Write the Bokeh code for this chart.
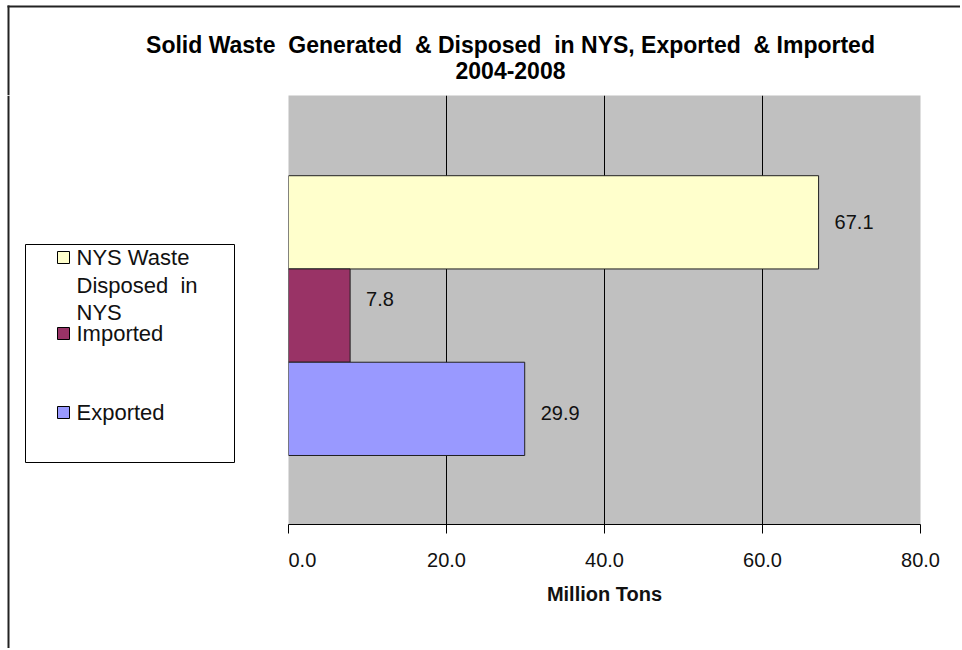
from bokeh.plotting import figure
from bokeh.layouts import column, row
from bokeh.models import (Range1d, FixedTicker, LabelSet, ColumnDataSource,
                          NumeralTickFormatter)
from bokeh.core.properties import value
from bokeh.embed import file_html
from bokeh.resources import INLINE

NB = "\u00a0"

# ---- data ----
series = ["NYS Waste Disposed in NYS", "Imported", "Exported"]
legend_lines = [["NYS Waste", "Disposed" + NB + NB + "in", "NYS"], ["Imported"], ["Exported"]]
values = [67.1, 7.8, 29.9]
colors = ["#FFFFCC", "#993366", "#9999FF"]
positions = [2, 1, 0]
x_ticks = [0, 20, 40, 60, 80]
title_lines = ["Solid Waste  Generated  & Disposed  in NYS, Exported  & Imported".replace("  ", NB + " "),
               "2004-2008"]
x_label = "Million Tons"

# ---- layout / style ----
FONT = "Liberation Sans"
W, H = 960, 648
FL, FR, FT, FB = 288, 920, 95, 524   # plot-area edges on the page
label_nudge = [0, 17, -4]            # value-label vertical nudges (px)
BORDER = "#222222"


def blank(width, height, xr, yr, bottom=0):
    f = figure(width=width, height=height, output_backend="svg", toolbar_location=None,
               x_range=Range1d(*xr), y_range=Range1d(*yr), x_axis_type=None,
               y_axis_type=None, min_border=0, min_border_bottom=bottom)
    f.outline_line_color = None
    f.background_fill_color = "white"
    f.border_fill_color = "white"
    f.xgrid.visible = False
    f.ygrid.visible = False
    return f


# ---- title strip (page coordinates, y downwards) ----
t = blank(W, FT, (0, W), (FT, 0))
t.quad(left=[7], right=[W], top=[5], bottom=[7], fill_color=BORDER, line_color=None)
t.quad(left=[7], right=[9], top=[5], bottom=[FT], fill_color=BORDER, line_color=None)
t.text(x=[510] * len(title_lines), y=[44 + 26 * i for i in range(len(title_lines))],
       text=title_lines, text_align="center", text_baseline="middle",
       text_font=value(FONT), text_font_style="bold", text_font_size="23px",
       text_color="black")

# ---- legend panel (page coordinates, y downwards) ----
try:
    lg = blank(FL, H - FT, (0, FL), (H, FT))
    lg.frame_align = False
    border_bottom = H
except Exception:
    lg = blank(FL, H - FT, (0, FL), (FB, FT), bottom=H - FB)
    border_bottom = FB
lg.quad(left=[7], right=[9], top=[FT], bottom=[border_bottom], fill_color=BORDER,
        line_color=None)
lg.quad(left=[25], right=[234], top=[244], bottom=[462], fill_color="white",
        line_color="black", line_width=1)
sq_tops = [251, 327, 406]
line_h = 27.5
lg.quad(left=[57] * 3, right=[69] * 3, top=sq_tops, bottom=[s + 12 for s in sq_tops],
        fill_color=colors, line_color="black", line_width=1)
tx, ty, tt = [], [], []
for lines, top in zip(legend_lines, sq_tops):
    for j, ln in enumerate(lines):
        tx.append(76)
        ty.append(top + 6 + j * line_h)
        tt.append(ln)
lg.text(x=tx, y=ty, text=tt, text_align="left", text_baseline="middle",
        text_font=value(FONT), text_font_size="22px", text_color="#111111")

# ---- chart ----
p = figure(width=W - FL, height=H - FT, output_backend="svg", toolbar_location=None,
           x_range=Range1d(0, 80), y_range=Range1d(-1.24, 3.36),
           min_border_left=0, min_border_right=W - FR, min_border_top=0,
           min_border_bottom=H - FB)
p.background_fill_color = "#C0C0C0"
p.border_fill_color = "white"
p.outline_line_color = None

src = ColumnDataSource(dict(y=positions, v=values, c=colors, dy=label_nudge,
                            lbl=[f"{v:.1f}" for v in values]))
p.hbar(y="y", right="v", left=0, height=1.0, fill_color="c", line_color="#202020",
       line_width=1, source=src)

labels = LabelSet(x="v", y="y", text="lbl", source=src, x_offset=16, y_offset="dy",
                  text_baseline="middle", text_font=value(FONT), text_font_size="20px",
                  text_color="#111111")
p.add_layout(labels)

p.yaxis.visible = False
p.ygrid.visible = False
p.xgrid.ticker = FixedTicker(ticks=x_ticks[1:-1])
p.xgrid.grid_line_color = "black"
p.xgrid.grid_line_width = 1

ax = p.xaxis[0]
ax.ticker = FixedTicker(ticks=x_ticks)
ax.formatter = NumeralTickFormatter(format="0.0")
ax.axis_line_color = "black"
ax.major_tick_line_color = "black"
ax.major_tick_out = 9
ax.major_tick_in = 0
ax.minor_tick_line_color = None
ax.major_label_text_font = FONT
ax.major_label_text_font_size = "20px"
ax.major_label_text_color = "#111111"
ax.major_label_standoff = 19
ax.axis_label = x_label
ax.axis_label_text_font = FONT
ax.axis_label_text_font_style = "bold"
ax.axis_label_text_font_size = "20px"
ax.axis_label_text_color = "#111111"
ax.axis_label_standoff = 13

layout = column(t, row(lg, p, spacing=0), spacing=0)
open("out.html", "w").write(file_html(layout, INLINE))
